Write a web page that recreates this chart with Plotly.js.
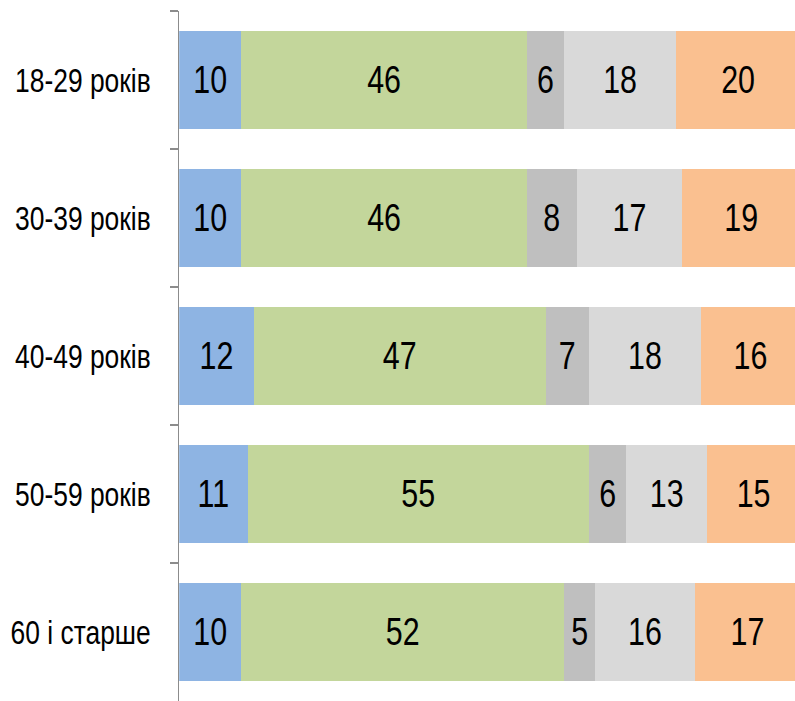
<!DOCTYPE html>
<html>
<head>
<meta charset="utf-8">
<script src="https://cdn.plot.ly/plotly-3.0.1.min.js"></script>
<style>
  html, body { margin: 0; padding: 0; background: #ffffff; overflow: hidden; width: 795px; height: 701px; }
  #chart { width: 994px; height: 701px; transform: scaleX(0.8); transform-origin: 0 0; }
</style>
</head>
<body>
<div id="chart"></div>
<script>
const categories = ["18-29 років", "30-39 років", "40-49 років", "50-59 років", "60 і старше"];
const seriesA = [10, 10, 12, 11, 10];
const seriesB = [46, 46, 47, 55, 52];
const seriesC = [6, 8, 7, 6, 5];
const seriesD = [18, 17, 18, 13, 16];
const seriesE = [20, 19, 16, 15, 17];
const colors = ["#8EB4E3", "#C3D69B", "#BFBFBF", "#D9D9D9", "#FAC090"];

const FONT = "'Liberation Sans', Arial, sans-serif";

const allSeries = [seriesA, seriesB, seriesC, seriesD, seriesE];
const traces = allSeries.map((vals, i) => ({
  type: "bar",
  orientation: "h",
  y: categories,
  x: vals,
  text: vals.map(String),
  textposition: "inside",
  insidetextanchor: "middle",
  constraintext: "none",
  textfont: { family: FONT, size: 38, color: "#000000" },
  marker: { color: colors[i], line: { width: 0 } },
  hoverinfo: "skip",
  showlegend: false
}));

const layout = {
  width: 994,
  height: 701,
  margin: { l: 224, r: 0, t: 11, b: 0 },
  paper_bgcolor: "#ffffff",
  plot_bgcolor: "rgba(0,0,0,0)",
  barmode: "stack",
  bargap: 0.283,
  font: { family: FONT, color: "#000000" },
  xaxis: {
    range: [0, 99.2],
    showgrid: false,
    zeroline: false,
    showticklabels: false,
    ticks: "",
    showline: false,
    fixedrange: true
  },
  yaxis: {
    type: "category",
    autorange: "reversed",
    showgrid: false,
    zeroline: false,
    showline: true,
    linecolor: "#8c8c8c",
    linewidth: 2,
    ticks: "outside",
    ticklen: 10,
    tickwidth: 2,
    tickcolor: "#8c8c8c",
    tickson: "boundaries",
    ticklabelstandoff: 27,
    tickfont: { family: FONT, size: 33, color: "#000000" },
    fixedrange: true
  }
};

Plotly.newPlot("chart", traces, layout, { staticPlot: true, displayModeBar: false });
</script>
</body>
</html>
